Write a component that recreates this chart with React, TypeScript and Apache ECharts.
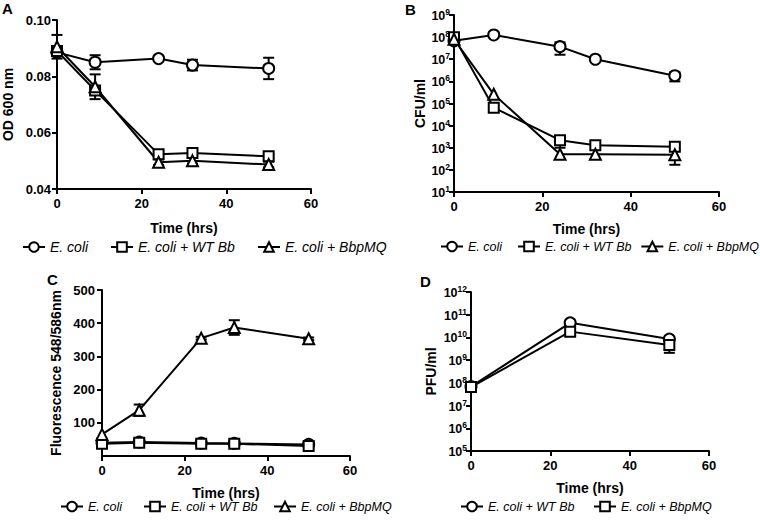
import React, { useEffect, useRef } from "react";
import * as echarts from "echarts";

const FONT = '"Liberation Sans", Arial, Helvetica, sans-serif';

// ---- data ----
const hrsABC = [0, 9, 24, 32, 50];
const hrsD = [0, 25, 50];

const nameEcoli = "E. coli";
const nameWT = "E. coli + WT Bb";
const nameMQ = "E. coli + BbpMQ";

// Panel A: OD 600 nm
const odEcoli = [0.0885, 0.085, 0.0863, 0.084, 0.0828];
const odEcoliSd = [0.001, 0.0025, 0.0005, 0.0019, 0.0038];
const odWT = [0.089, 0.075, 0.0523, 0.0528, 0.0516];
const odWTSd = [0.001, 0.001, 0.0008, 0.0006, 0.0006];
const odMQ = [0.0905, 0.0763, 0.0495, 0.05, 0.0487];
const odMQSd = [0.0042, 0.0044, 0.001, 0.001, 0.001];

// Panel B: CFU/ml
const cfuEcoli = [6.8e7, 1.25e8, 3.7e7, 1.0e7, 1.8e6];
const cfuEcoliSd = [0, 0, 2.1e7, 0, 0.8e6];
const cfuWT = [1.0e8, 6.5e4, 2.2e3, 1.3e3, 1.1e3];
const cfuWTSd = [0, 0, 1.2e3, 0, 0];
const cfuMQ = [8.0e7, 2.6e5, 5.1e2, 5.1e2, 4.8e2];
const cfuMQSd = [0, 0, 0, 0, 3.1e2];

// Panel C: Fluorescence
const fluEcoli = [40, 42, 39, 38, 35];
const fluWT = [37, 40, 37, 37, 30];
const fluMQ = [65, 138, 355, 387, 353];
const fluMQSd = [0, 17, 4, 22, 4];

// Panel D: PFU/ml
const pfuWT = [6.9e7, 4.4e10, 8.5e9];
const pfuMQ = [6.5e7, 1.8e10, 4.6e9];
const pfuMQSd = [0, 0, 2.5e9];

const yTicksC = [100, 200, 300, 400, 500];

// ---- helpers ----
const zip = (xs: number[], ys: number[]) => xs.map((x, i) => [x, ys[i]]);
const errData = (xs: number[], ys: number[], sd: number[]) =>
  xs
    .map((x, i) => [x, ys[i] - sd[i], ys[i] + sd[i], sd[i]])
    .filter((d) => d[3] > 0)
    .map((d) => [d[0], d[1], d[2]]);

function errRender(_p: any, api: any) {
  const x = api.value(0);
  const lo = api.value(1);
  const hi = api.value(2);
  const a = api.coord([x, lo]);
  const b = api.coord([x, hi]);
  const h = 5.5;
  const st = { stroke: "#000", lineWidth: 2 };
  return {
    type: "group",
    children: [
      { type: "line", shape: { x1: a[0], y1: a[1], x2: b[0], y2: b[1] }, style: st },
      { type: "line", shape: { x1: b[0] - h, y1: b[1], x2: b[0] + h, y2: b[1] }, style: st },
      { type: "line", shape: { x1: a[0] - h, y1: a[1], x2: a[0] + h, y2: a[1] }, style: st },
    ],
  };
}

const SYM: Record<string, string> = {
  c: "emptyCircle",
  s: "emptyRect",
  t: "emptyTriangle",
};

function lineSeries(name: string, idx: number, xs: number[], ys: number[], sym: string) {
  return {
    type: "line",
    name,
    xAxisIndex: idx,
    yAxisIndex: idx,
    data: zip(xs, ys),
    symbol: SYM[sym],
    symbolSize: sym === "s" ? 10 : 11,
    color: "#000",
    lineStyle: { color: "#000", width: 2 },
    itemStyle: { color: "#000", borderColor: "#000", borderWidth: 2 },
    z: 3,
  };
}

function errSeries(idx: number, xs: number[], ys: number[], sd: number[]) {
  return {
    type: "custom",
    xAxisIndex: idx,
    yAxisIndex: idx,
    data: errData(xs, ys, sd),
    encode: { x: 0, y: [1, 2] },
    renderItem: errRender,
    z: 2,
    silent: true,
  };
}

const axisLineStyle = { color: "#000", width: 2 };
const labelStyle = { color: "#000", fontFamily: FONT, fontWeight: "bold" as const, fontSize: 13 };
const nameStyle = { color: "#000", fontFamily: FONT, fontWeight: "bold" as const, fontSize: 14 };

function xAxis(idx: number, gap: number) {
  return {
    type: "value",
    gridIndex: idx,
    min: 0,
    max: 60,
    interval: 20,
    name: "Time (hrs)",
    nameLocation: "middle",
    nameGap: gap,
    nameTextStyle: nameStyle,
    axisLine: { show: true, onZero: false, lineStyle: axisLineStyle },
    axisTick: { show: true, length: 5, lineStyle: axisLineStyle },
    axisLabel: { ...labelStyle, margin: 8 },
    splitLine: { show: false },
  };
}

const supFormatter = (v: number) => {
  const e = Math.round(Math.log10(v));
  return "{b|10}{s|" + e + "}";
};
const supRich = {
  b: { fontFamily: FONT, fontWeight: "bold", fontSize: 12.5, color: "#000", lineHeight: 15, verticalAlign: "bottom" },
  s: { fontFamily: FONT, fontWeight: "bold", fontSize: 8.5, color: "#000", lineHeight: 15, verticalAlign: "bottom", padding: [0, 0, 6, 0] },
};

function legendItem(name: string, pos: { left?: number; right?: number }, top: number, size: number) {
  return {
    data: [name],
    ...pos,
    top,
    padding: 0,
    itemWidth: 22,
    itemHeight: 12,
    selectedMode: false,
    textStyle: { fontFamily: FONT, fontStyle: "italic", fontSize: size, color: "#000" },
  };
}

const panelLetter = (text: string, x: number, y: number) => ({
  type: "text",
  left: x,
  top: y,
  style: { text, fontFamily: FONT, fontWeight: "bold", fontSize: 15, fill: "#000" },
});

export default function App() {
  const ref = useRef<HTMLDivElement>(null);
  useEffect(() => {
    if (!ref.current) return;
    const chart = echarts.init(ref.current, undefined, { renderer: "svg" });
    const nameWTd = nameWT + " ";
    const nameMQd = nameMQ + " ";
    chart.setOption({
      animation: false,
      backgroundColor: "#fff",
      grid: [
        { left: 57, top: 20, width: 254, height: 169 },
        { left: 454, top: 15, width: 265, height: 177 },
        { left: 102, top: 290, width: 248, height: 166 },
        { left: 471, top: 292, width: 238, height: 159 },
      ],
      xAxis: [xAxis(0, 32), xAxis(1, 30), xAxis(2, 30), xAxis(3, 30)],
      yAxis: [
        {
          type: "value",
          gridIndex: 0,
          min: 0.04,
          max: 0.1,
          interval: 0.02,
          name: "OD 600 nm",
          nameLocation: "middle",
          nameGap: 42,
          nameTextStyle: nameStyle,
          axisLine: { show: true, lineStyle: axisLineStyle },
          axisTick: { show: true, length: 5, lineStyle: axisLineStyle },
          axisLabel: { ...labelStyle, margin: 6, formatter: (v: number) => v.toFixed(2) },
          splitLine: { show: false },
        },
        {
          type: "log",
          logBase: 10,
          gridIndex: 1,
          min: 10,
          max: 1e9,
          interval: 1,
          splitNumber: 8,
          name: "CFU/ml",
          nameLocation: "middle",
          nameGap: 22,
          nameTextStyle: nameStyle,
          axisLine: { show: true, lineStyle: axisLineStyle },
          axisTick: { show: true, length: 5, lineStyle: axisLineStyle },
          axisLabel: { margin: 4, formatter: supFormatter, rich: supRich },
          splitLine: { show: false },
          minorTick: { show: false },
        },
        {
          type: "value",
          gridIndex: 2,
          min: 0,
          max: 500,
          interval: 100,
          name: "Fluorescence 548/586nm",
          nameLocation: "middle",
          nameGap: 39,
          nameTextStyle: nameStyle,
          axisLine: { show: true, lineStyle: axisLineStyle },
          axisTick: { show: true, length: 5, lineStyle: axisLineStyle, customValues: yTicksC },
          axisLabel: { ...labelStyle, margin: 7, customValues: yTicksC },
          splitLine: { show: false },
        },
        {
          type: "log",
          logBase: 10,
          gridIndex: 3,
          min: 1e5,
          max: 1e12,
          interval: 1,
          splitNumber: 7,
          name: "PFU/ml",
          nameLocation: "middle",
          nameGap: 33,
          nameTextStyle: nameStyle,
          axisLine: { show: true, lineStyle: axisLineStyle },
          axisTick: { show: true, length: 5, lineStyle: axisLineStyle },
          axisLabel: { margin: 4, formatter: supFormatter, rich: supRich },
          splitLine: { show: false },
          minorTick: { show: false },
        },
      ],
      legend: [
        legendItem(nameEcoli, { left: 22 }, 240, 14),
        legendItem(nameWT, { left: 110 }, 240, 14),
        legendItem(nameMQ, { left: 257 }, 240, 14),
        legendItem(nameEcoli, { left: 440 }, 240, 12.5),
        legendItem(nameWT, { left: 517 }, 240, 12.5),
        legendItem(nameMQ, { right: 1 }, 240, 12.5),
        legendItem(nameEcoli, { left: 60 }, 500, 12.5),
        legendItem(nameWT, { left: 143 }, 500, 12.5),
        legendItem(nameMQ, { left: 273 }, 500, 12.5),
        legendItem(nameWTd, { left: 460 }, 500, 12.5),
        legendItem(nameMQd, { left: 593 }, 500, 12.5),
      ],
      graphic: [
        panelLetter("A", 2, 1),
        panelLetter("B", 405, 2),
        panelLetter("C", 47, 272),
        panelLetter("D", 420, 274),
      ],
      series: [
        errSeries(0, hrsABC, odEcoli, odEcoliSd),
        errSeries(0, hrsABC, odWT, odWTSd),
        errSeries(0, hrsABC, odMQ, odMQSd),
        lineSeries(nameEcoli, 0, hrsABC, odEcoli, "c"),
        lineSeries(nameWT, 0, hrsABC, odWT, "s"),
        lineSeries(nameMQ, 0, hrsABC, odMQ, "t"),

        errSeries(1, hrsABC, cfuEcoli, cfuEcoliSd),
        errSeries(1, hrsABC, cfuWT, cfuWTSd),
        errSeries(1, hrsABC, cfuMQ, cfuMQSd),
        lineSeries(nameEcoli, 1, hrsABC, cfuEcoli, "c"),
        lineSeries(nameWT, 1, hrsABC, cfuWT, "s"),
        lineSeries(nameMQ, 1, hrsABC, cfuMQ, "t"),

        errSeries(2, hrsABC, fluMQ, fluMQSd),
        lineSeries(nameEcoli, 2, hrsABC, fluEcoli, "c"),
        lineSeries(nameWT, 2, hrsABC, fluWT, "s"),
        lineSeries(nameMQ, 2, hrsABC, fluMQ, "t"),

        errSeries(3, hrsD, pfuMQ, pfuMQSd),
        lineSeries(nameWTd, 3, hrsD, pfuWT, "c"),
        lineSeries(nameMQd, 3, hrsD, pfuMQ, "s"),
      ],
    });
    return () => chart.dispose();
  }, []);
  return (
    <div
      ref={ref}
      style={{ position: "absolute", left: 0, top: 0, width: 760, height: 521 }}
    />
  );
}
